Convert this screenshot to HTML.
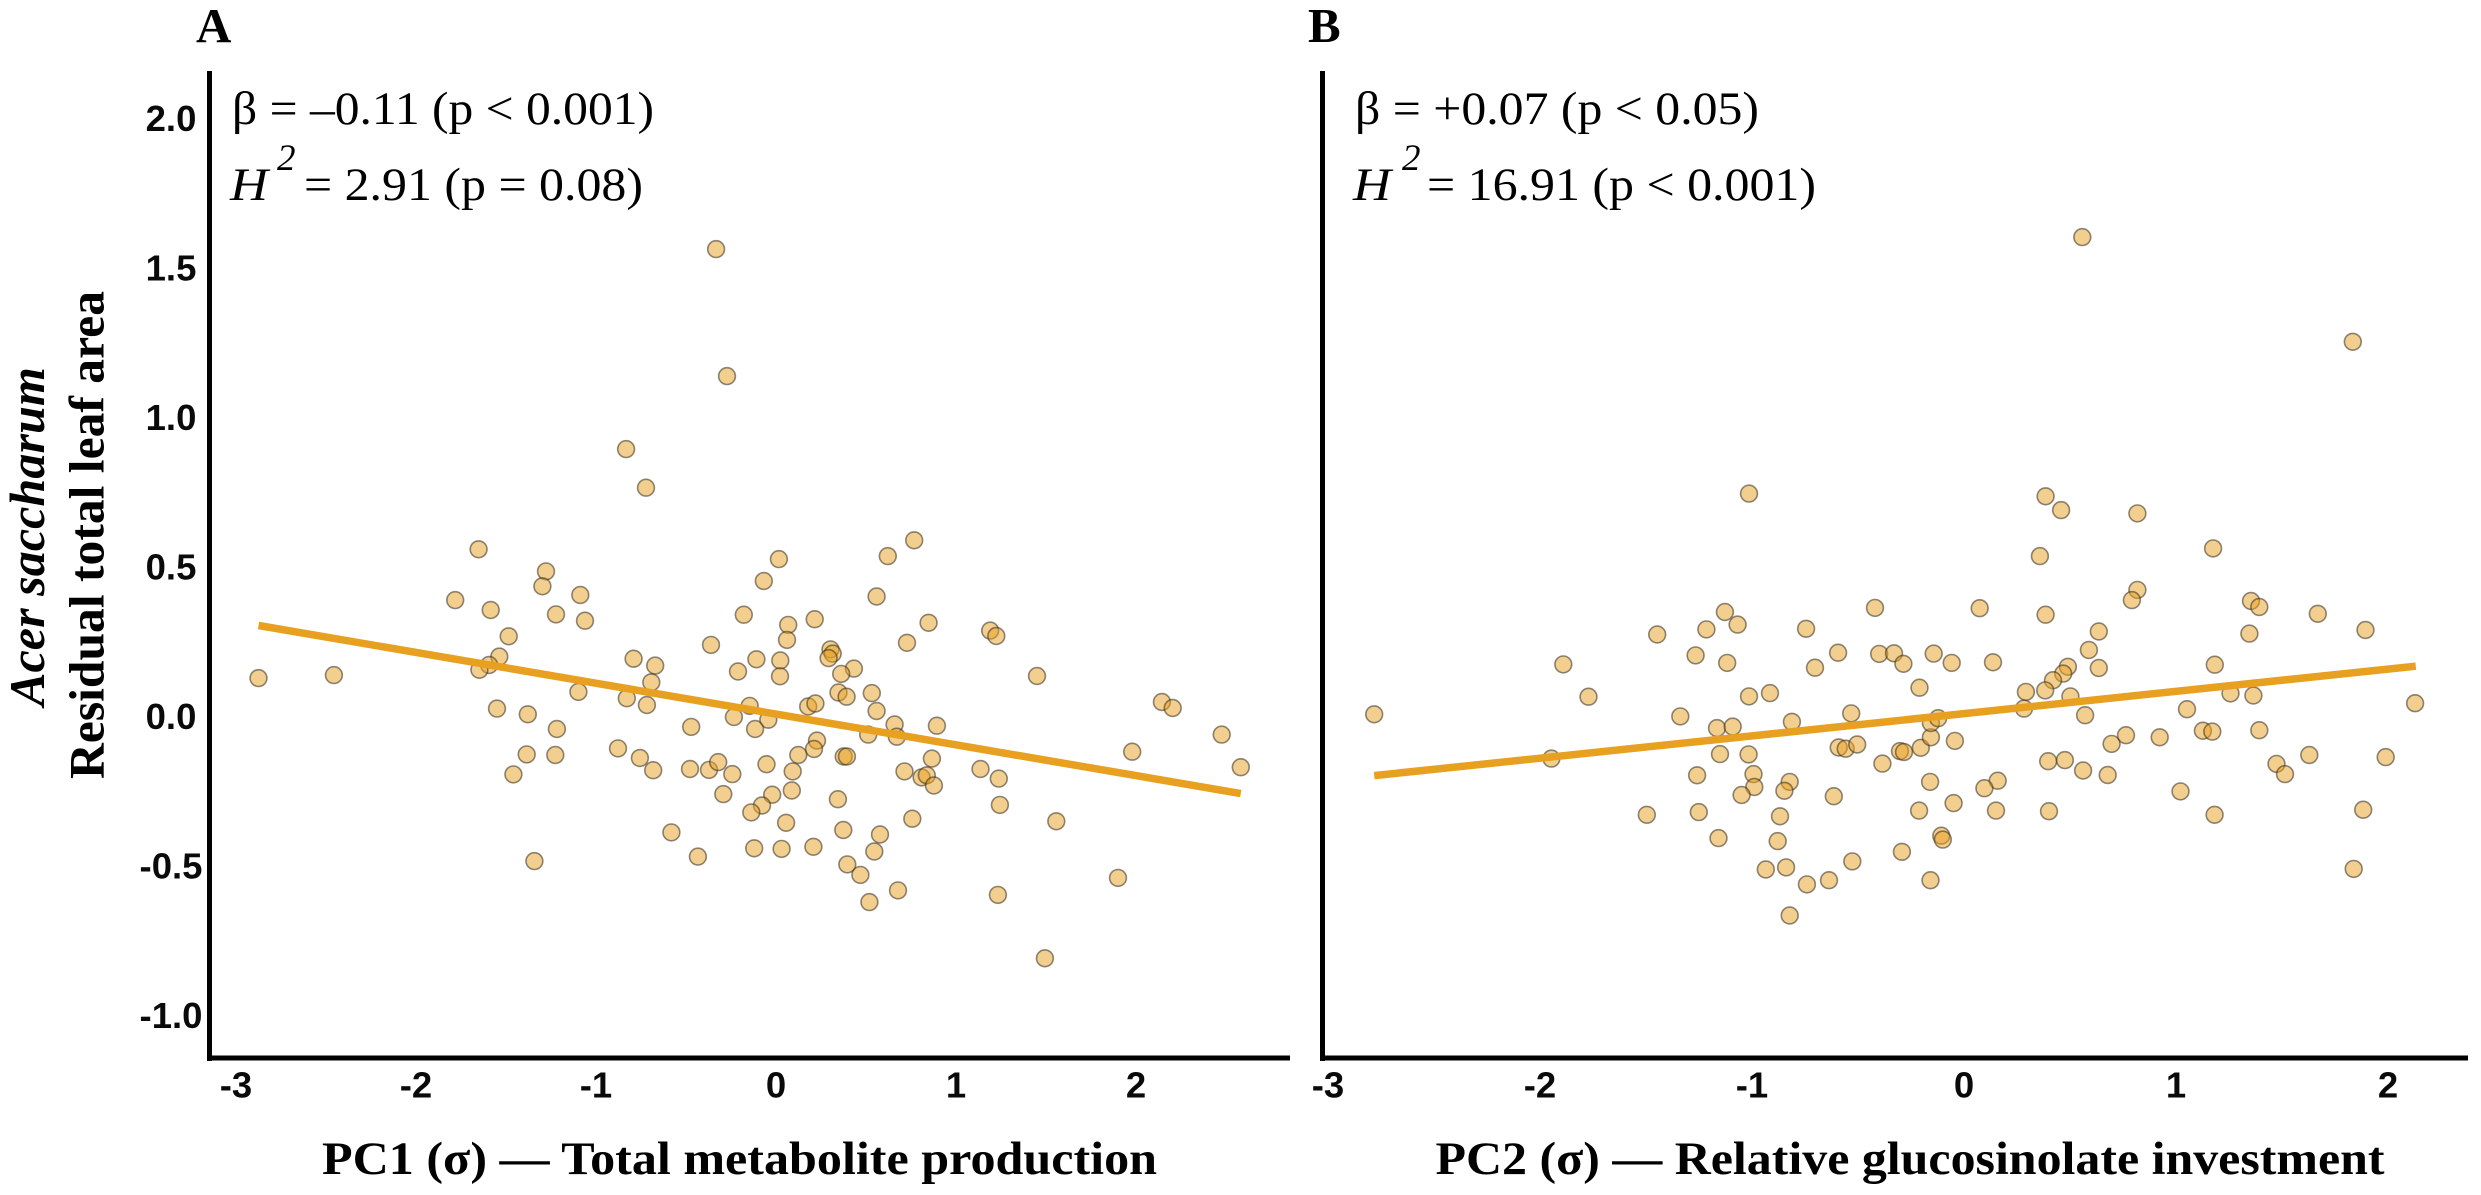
<!DOCTYPE html>
<html lang="en">
<head>
<meta charset="utf-8">
<title>Residual total leaf area vs PC1 and PC2</title>
<style>
html,body{margin:0;padding:0;background:#fff;width:2481px;height:1195px;overflow:hidden}
svg{display:block}
.serif{font-family:"Liberation Serif",serif;fill:#000}
.tick{font-family:"Liberation Sans",sans-serif;font-weight:700;font-size:36.5px;fill:#0a0a0a;text-anchor:middle}
.stat{font-size:47px}
.title{font-size:47px;font-weight:700}
.ytitle{font-size:50px;font-weight:700}
.panel{font-size:49px;font-weight:700}
</style>
</head>
<body>
<svg id="figure" xmlns="http://www.w3.org/2000/svg" width="2481" height="1195" viewBox="0 0 2481 1195">
  <rect x="0" y="0" width="2481" height="1195" fill="#fff"/>

  <g id="panel-a">
    <text class="serif panel" x="196" y="42">A</text>
    <text class="serif ytitle" font-style="italic" transform="translate(44 706) rotate(-90)" textLength="339" lengthAdjust="spacingAndGlyphs">Acer saccharum</text>
    <text class="serif ytitle" transform="translate(103.5 779) rotate(-90)" textLength="488" lengthAdjust="spacingAndGlyphs">Residual total leaf area</text>
    <rect x="207" y="71" width="5" height="990" fill="#000"/>
    <rect x="207" y="1055.5" width="1083" height="5" fill="#000"/>
    <g id="y-ticks-a"></g>
    <g id="x-ticks-a"></g>
    <g id="points-a"></g>
    <line id="fit-a" stroke="#e8a020" stroke-width="7.5"/>
    <text class="serif stat" x="232" y="124" textLength="422" lengthAdjust="spacingAndGlyphs">β = –0.11 (p &lt; 0.001)</text>
    <text class="serif stat" font-style="italic" x="230" y="200" textLength="38" lengthAdjust="spacingAndGlyphs">H</text>
    <text class="serif" font-style="italic" font-size="37" x="277" y="170">2</text>
    <text class="serif stat" x="304" y="200" textLength="339" lengthAdjust="spacingAndGlyphs">= 2.91 (p = 0.08)</text>
    <text class="serif title" x="322" y="1174" textLength="835" lengthAdjust="spacingAndGlyphs">PC1 (σ) — Total metabolite production</text>
  </g>

  <g id="panel-b">
    <text class="serif panel" x="1308" y="42">B</text>
    <rect x="1320" y="71" width="5" height="990" fill="#000"/>
    <rect x="1320" y="1055.5" width="1148" height="5" fill="#000"/>
    <g id="x-ticks-b"></g>
    <g id="points-b"></g>
    <line id="fit-b" stroke="#e8a020" stroke-width="7.5"/>
    <text class="serif stat" x="1355" y="124" textLength="404" lengthAdjust="spacingAndGlyphs">β = +0.07 (p &lt; 0.05)</text>
    <text class="serif stat" font-style="italic" x="1353" y="200" textLength="38" lengthAdjust="spacingAndGlyphs">H</text>
    <text class="serif" font-style="italic" font-size="37" x="1402" y="170">2</text>
    <text class="serif stat" x="1427" y="200" textLength="389" lengthAdjust="spacingAndGlyphs">= 16.91 (p &lt; 0.001)</text>
    <text class="serif title" x="1435.5" y="1174" textLength="949" lengthAdjust="spacingAndGlyphs">PC2 (σ) — Relative glucosinolate investment</text>
  </g>
</svg>

<script>
const yTickValues = [2.0, 1.5, 1.0, 0.5, 0.0, -0.5, -1.0];
const yTickLabels = ["2.0", "1.5", "1.0", "0.5", "0.0", "-0.5", "-1.0"];
const xTickValuesA = [-3, -2, -1, 0, 1, 2];
const xTickValuesB = [-3, -2, -1, 0, 1, 2];

const pc1 = [-2.875,-2.456,-1.342,-0.833,-0.722,-0.333,-0.272,-1.652,-1.278,-1.298,-1.087,-1.782,-1.585,-1.222,-1.061,-1.485,-0.361,-1.537,-1.594,-1.648,-0.791,-0.671,-0.693,-1.098,-0.829,-0.717,-1.550,-1.379,-1.217,-0.471,-0.878,-0.756,-0.682,-1.385,-1.226,-1.459,-0.478,-0.372,-0.321,-0.293,-0.581,-0.434,-0.243,0.768,0.621,0.016,-0.068,0.559,-0.179,0.068,0.215,0.061,0.848,0.728,1.190,1.224,0.303,0.315,0.292,-0.109,0.024,-0.211,0.022,0.433,0.362,1.450,0.347,0.392,0.532,0.559,-0.146,0.179,0.219,-0.234,-0.043,-0.116,0.659,0.512,0.671,0.894,2.144,2.204,2.476,1.979,2.582,0.228,0.211,0.124,0.376,0.394,0.866,-0.053,0.093,0.714,1.136,1.238,0.809,0.838,0.877,0.088,-0.021,-0.078,-0.137,0.344,1.244,0.056,0.757,1.557,0.374,0.578,0.546,-0.121,0.031,0.208,0.396,0.469,0.678,0.519,1.233,1.900,1.494];
const leafAreaA = [0.125,0.135,-0.487,0.891,0.762,1.560,1.135,0.556,0.482,0.432,0.403,0.386,0.353,0.338,0.317,0.265,0.236,0.197,0.169,0.153,0.190,0.167,0.111,0.079,0.058,0.035,0.023,0.004,-0.045,-0.038,-0.110,-0.142,-0.183,-0.130,-0.132,-0.197,-0.179,-0.182,-0.156,-0.263,-0.391,-0.472,-0.196,0.586,0.533,0.523,0.450,0.398,0.337,0.303,0.322,0.253,0.310,0.243,0.284,0.266,0.221,0.207,0.192,0.188,0.184,0.147,0.131,0.157,0.139,0.132,0.077,0.063,0.075,0.015,0.032,0.030,0.040,-0.005,-0.014,-0.045,-0.030,-0.064,-0.071,-0.034,0.045,0.025,-0.064,-0.121,-0.173,-0.084,-0.112,-0.132,-0.137,-0.137,-0.144,-0.163,-0.187,-0.187,-0.179,-0.211,-0.207,-0.200,-0.234,-0.251,-0.265,-0.301,-0.324,-0.280,-0.299,-0.359,-0.345,-0.354,-0.383,-0.398,-0.455,-0.444,-0.446,-0.439,-0.498,-0.533,-0.585,-0.624,-0.600,-0.543,-0.812];
const fitXA = [-2.875, 2.582];
const fitYA = [0.301, -0.261];

const pc2 = [-2.782,-1.890,-1.771,-1.946,-1.447,-1.215,-1.128,-1.068,-1.266,-1.117,-0.745,-0.420,-0.594,-0.703,-0.400,-0.330,-0.286,-0.143,-0.058,-0.210,-0.915,-1.014,-1.338,-1.165,-1.091,-0.812,-0.532,-1.151,-1.016,-0.591,-0.558,-0.504,-0.302,-0.283,-0.204,-0.156,-0.156,-0.122,-0.385,-1.259,-0.993,-0.989,-1.049,-0.822,-0.847,-0.614,-0.160,-0.212,-1.496,-1.251,-0.868,-1.158,-0.879,-0.107,-0.100,-0.293,-0.935,-0.839,-0.527,-0.741,-0.637,-0.158,-0.822,-1.014,-0.043,-0.049,0.558,1.834,0.385,0.458,0.818,1.175,0.358,0.818,0.792,0.074,0.385,1.354,1.393,1.669,1.346,1.894,0.636,0.589,0.137,0.636,1.183,0.490,0.468,0.420,0.292,0.383,0.502,1.257,1.365,0.283,2.128,0.571,1.052,0.696,0.764,0.923,1.127,1.171,1.393,0.397,0.476,0.562,0.678,1.629,1.474,1.514,1.989,1.021,0.159,0.096,0.151,0.401,1.182,1.883,1.838];
const leafAreaB = [0.004,0.171,0.063,-0.144,0.271,0.288,0.346,0.304,0.201,0.176,0.290,0.360,0.210,0.160,0.206,0.208,0.173,0.207,0.176,0.093,0.075,0.064,-0.003,-0.042,-0.037,-0.021,0.007,-0.129,-0.130,-0.107,-0.111,-0.097,-0.119,-0.122,-0.108,-0.073,-0.025,-0.009,-0.161,-0.200,-0.196,-0.239,-0.266,-0.222,-0.252,-0.270,-0.222,-0.318,-0.332,-0.323,-0.337,-0.410,-0.420,-0.402,-0.415,-0.456,-0.515,-0.508,-0.488,-0.565,-0.551,-0.551,-0.669,0.742,-0.085,-0.293,1.600,1.250,0.733,0.687,0.676,0.559,0.533,0.420,0.386,0.359,0.337,0.383,0.363,0.340,0.274,0.286,0.281,0.219,0.178,0.159,0.170,0.163,0.140,0.118,0.079,0.084,0.064,0.074,0.067,0.023,0.041,0.001,0.021,-0.095,-0.066,-0.073,-0.051,-0.054,-0.049,-0.153,-0.149,-0.184,-0.199,-0.132,-0.162,-0.196,-0.139,-0.254,-0.218,-0.243,-0.318,-0.320,-0.332,-0.315,-0.513];
const fitXB = [-2.782, 2.131];
const fitYB = [-0.201, 0.165];

const SVG_NS = "http://www.w3.org/2000/svg";
function scaleY(v) { return 715.5 - 299 * v; }
function scaleXA(v) { return 776 + 180 * v; }
function scaleXB(v) { return 1964 + 212 * v; }

function drawPoints(groupId, xs, ys, sx, name) {
  const g = document.getElementById(groupId);
  xs.forEach(function (x, i) {
    const c = document.createElementNS(SVG_NS, "circle");
    c.setAttribute("cx", sx(x).toFixed(1));
    c.setAttribute("cy", scaleY(ys[i]).toFixed(1));
    c.setAttribute("r", "8.4");
    c.setAttribute("fill", "rgba(232,160,32,0.5)");
    c.setAttribute("stroke", "rgba(50,42,30,0.55)");
    c.setAttribute("stroke-width", "1.6");
    
    
    g.appendChild(c);
  });
}

function drawFit(id, xs, ys, sx) {
  const l = document.getElementById(id);
  l.setAttribute("x1", sx(xs[0]));
  l.setAttribute("y1", scaleY(ys[0]));
  l.setAttribute("x2", sx(xs[1]));
  l.setAttribute("y2", scaleY(ys[1]));
}

function drawXTicks(groupId, values, sx, name) {
  const g = document.getElementById(groupId);
  values.forEach(function (v) {
    const t = document.createElementNS(SVG_NS, "text");
    t.setAttribute("class", "tick");
    t.setAttribute("x", sx(v));
    t.setAttribute("y", 1097.5);
    t.textContent = String(v);
    
    
    g.appendChild(t);
  });
}

function drawYTicks(groupId, values, labels) {
  const g = document.getElementById(groupId);
  values.forEach(function (v, i) {
    const t = document.createElementNS(SVG_NS, "text");
    t.setAttribute("class", "tick");
    t.setAttribute("x", 171);
    t.setAttribute("y", scaleY(v) + 13.5);
    t.textContent = labels[i];
    
    
    g.appendChild(t);
  });
}

drawYTicks("y-ticks-a", yTickValues, yTickLabels);
drawXTicks("x-ticks-a", xTickValuesA, scaleXA, "x-tick-label-a");
drawXTicks("x-ticks-b", xTickValuesB, scaleXB, "x-tick-label-b");
drawPoints("points-a", pc1, leafAreaA, scaleXA, "data-point-a");
drawPoints("points-b", pc2, leafAreaB, scaleXB, "data-point-b");
drawFit("fit-a", fitXA, fitYA, scaleXA);
drawFit("fit-b", fitXB, fitYB, scaleXB);
</script>
</body>
</html>
